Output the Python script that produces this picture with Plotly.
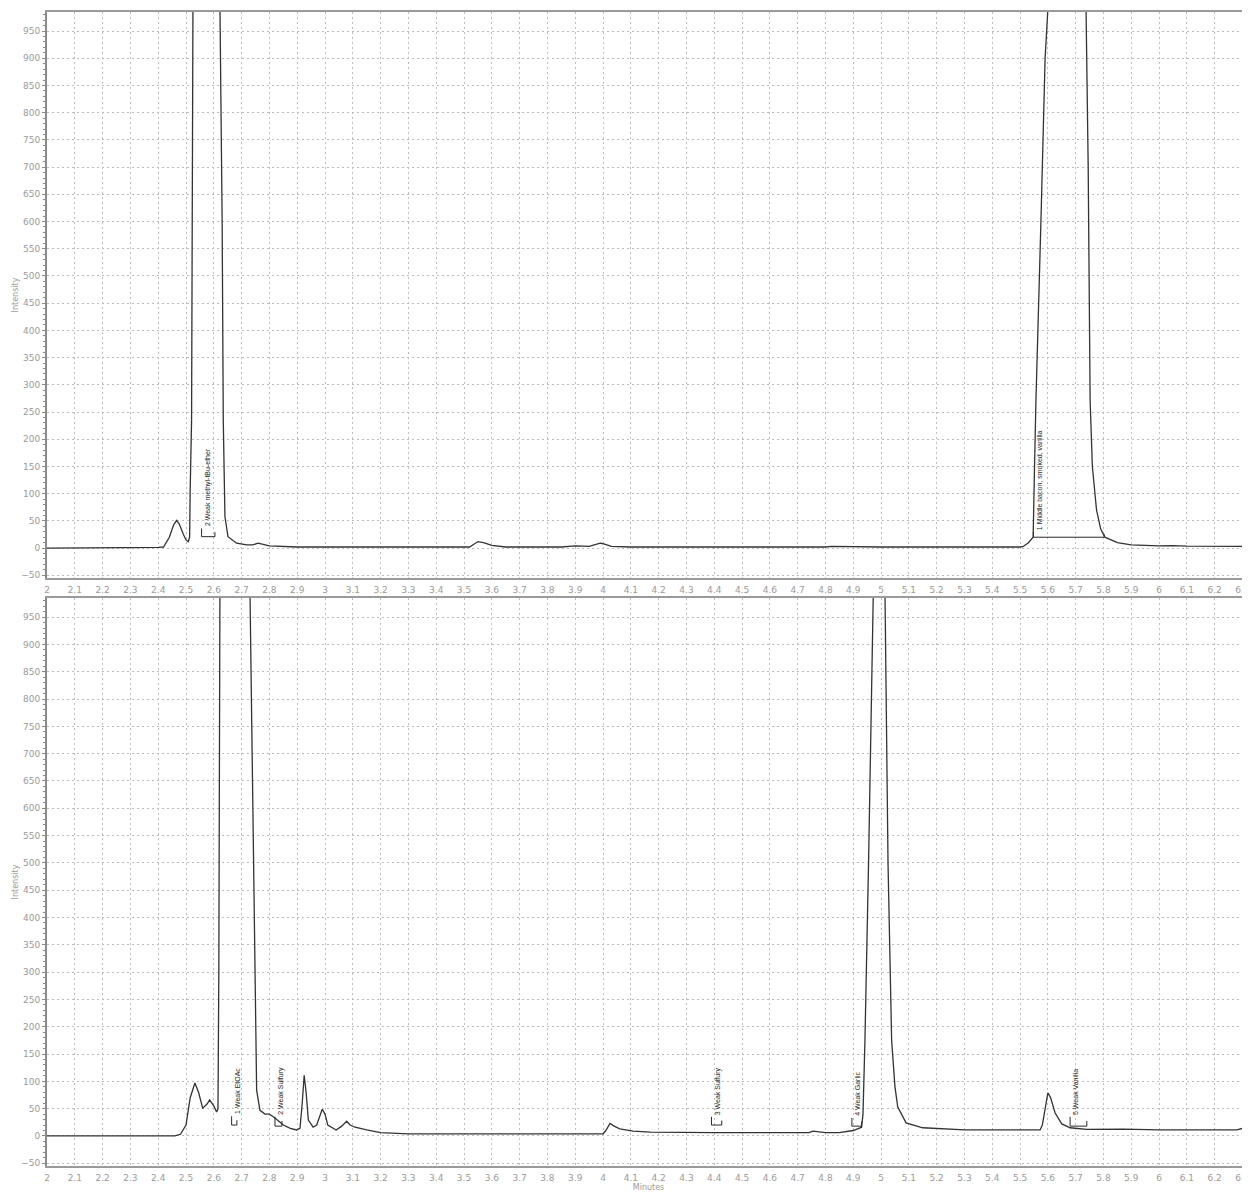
import plotly.graph_objects as go

# ---------------- data ----------------
top_time = [2.0, 2.27, 2.28, 2.40, 2.419, 2.44, 2.455, 2.466, 2.475, 2.49, 2.50, 2.508,
            2.513, 2.515, 2.52, 2.525, 2.575, 2.622, 2.63, 2.634, 2.64, 2.651, 2.682,
            2.718, 2.74, 2.759, 2.78, 2.80, 2.90, 3.00, 3.30, 3.50, 3.52, 3.55, 3.57,
            3.60, 3.65, 3.85, 3.90, 3.95, 3.98, 3.99, 4.00, 4.03, 4.10, 4.30, 4.40,
            4.80, 4.82, 5.00, 5.50, 5.51, 5.53, 5.547, 5.552, 5.557, 5.575, 5.59, 5.601,
            5.67, 5.737, 5.745, 5.752, 5.76, 5.775, 5.79, 5.805, 5.85, 5.90, 5.95,
            6.00, 6.05, 6.10, 6.33]
top_intensity = [0, 0, 1, 1.5, 2, 20, 42, 51, 45, 26, 15, 12,
                 20, 107, 235, 1000, 4000, 1000, 600, 235, 58, 21, 9,
                 6, 6, 9, 6, 4, 2, 2, 1, 1, 2, 12, 10,
                 5, 2, 2, 4, 3, 7, 9, 8, 3, 2, 2, 1.5,
                 2, 3, 2, 2, 2.5, 10, 20, 150, 270, 600, 900, 1000,
                 4000, 1000, 700, 270, 150, 70, 35, 20, 10, 6, 5,
                 4, 4.5, 3.5, 3]

bottom_time = [2.0, 2.46, 2.48, 2.50, 2.515, 2.532, 2.545, 2.56, 2.575, 2.585, 2.60,
               2.61, 2.615, 2.618, 2.622, 2.68, 2.73, 2.745, 2.752, 2.754, 2.766,
               2.784, 2.80, 2.82, 2.85, 2.875, 2.898, 2.91, 2.918, 2.925, 2.932, 2.94,
               2.957, 2.97, 2.99, 3.00, 3.01, 3.04, 3.06, 3.078, 3.09, 3.108, 3.15,
               3.20, 3.30, 3.60, 3.90, 4.00, 4.01, 4.025, 4.04, 4.06, 4.108, 4.17,
               4.40, 4.70, 4.74, 4.755, 4.78, 4.80, 4.85, 4.88, 4.90, 4.92, 4.93,
               4.935, 4.942, 4.955, 4.972, 4.993, 5.014, 5.025, 5.038, 5.05, 5.06,
               5.09, 5.15, 5.21, 5.30, 5.40, 5.50, 5.572, 5.58, 5.59, 5.60, 5.61,
               5.626, 5.65, 5.68, 5.74, 5.80, 5.87, 6.00, 6.20, 6.28, 6.30, 6.33]
bottom_intensity = [0, 0, 3, 20, 70, 97, 80, 51, 58, 66, 55,
                    44, 50, 300, 1000, 4000, 1000, 400, 175, 84, 47,
                    40, 40, 33, 20, 14, 11, 14, 60, 111, 80, 29,
                    16, 20, 49, 40, 20, 11, 18, 27, 20, 16, 11,
                    6, 4, 4, 4, 4, 10, 23, 18, 13, 9, 7,
                    6, 6, 6, 9, 8, 6, 6, 8, 10, 14, 16,
                    40, 175, 500, 1000, 1600, 1000, 500, 175, 90, 53,
                    24, 15, 13, 11, 11, 11, 11, 20, 47, 79, 70,
                    42, 22, 15, 12, 12, 12.5, 11, 11, 11, 14, 15]

top_ann_labels = ["2 Weak methyl-tBu-ether", "1 Middle bacon, smoked, vanilla"]
top_ann_start = [2.556, 5.548]
top_ann_end = [2.604, 5.803]
top_ann_base = [21, 20]
top_ann_top = [36, 30]

bottom_ann_labels = ["1 Weak EtOAc", "2 Weak Sulfury", "3 Weak Sulfury",
                     "4 Weak Garlic", "5 Weak Vanilla"]
bottom_ann_start = [2.664, 2.82, 4.39, 4.895, 5.68]
bottom_ann_end = [2.683, 2.845, 4.427, 4.93, 5.74]
bottom_ann_base = [20, 18, 20, 18, 18]
bottom_ann_top = [36, 35, 35, 33, 35]

x_tick_vals = [round(2.0 + 0.1 * i, 1) for i in range(44)]
x_tick_text = [("%g" % v) for v in x_tick_vals]
y_tick_vals = list(range(-50, 1000, 50))

# ---------------- figure ----------------
LINE = "#333333"
GRID = "#bdbdbd"
AXIS = "#9a9a9a"
TICKF = dict(family="DejaVu Sans", size=9, color="#9a9a9a")
GDASH = "2px,3px"

fig = go.Figure()
fig.add_trace(go.Scatter(x=top_time, y=top_intensity, mode="lines",
                         line=dict(color=LINE, width=1.3), xaxis="x", yaxis="y",
                         showlegend=False, hoverinfo="skip"))
fig.add_trace(go.Scatter(x=bottom_time, y=bottom_intensity, mode="lines",
                         line=dict(color=LINE, width=1.3), xaxis="x2", yaxis="y2",
                         showlegend=False, hoverinfo="skip"))

def bracket(x0, x1, yb, yt, xr, yr):
    right_top = yb + (yt - yb) * 0.55
    path = "M %f,%f L %f,%f L %f,%f L %f,%f" % (x0, yt, x0, yb, x1, yb, x1, right_top)
    fig.add_shape(type="path", path=path, xref=xr, yref=yr,
                  line=dict(color="#2a2a2a", width=1))

def label(x0, yt, txt, xr, yr):
    fig.add_annotation(x=x0, y=yt, xref=xr, yref=yr, text=txt, textangle=-90,
                       showarrow=False, xanchor="center", yanchor="bottom",
                       xshift=6, font=dict(family="Liberation Sans", size=7, color="#1e1e1e"))

for lab, s, e, b, t in zip(top_ann_labels, top_ann_start, top_ann_end, top_ann_base, top_ann_top):
    bracket(s, e, b, t, "x", "y")
    label(s, t, lab, "x", "y")
for lab, s, e, b, t in zip(bottom_ann_labels, bottom_ann_start, bottom_ann_end,
                           bottom_ann_base, bottom_ann_top):
    bracket(s, e, b, t, "x2", "y2")
    label(s, t, lab, "x2", "y2")

xcommon = dict(range=[2.0, 6.327], tickmode="array", tickvals=x_tick_vals,
               ticktext=x_tick_text, tickfont=TICKF, showgrid=True, gridcolor=GRID,
               griddash=GDASH, gridwidth=1, zeroline=False, showline=True,
               linecolor=AXIS, linewidth=2, mirror=True, ticks="", ticklabelstandoff=2)
ycommon = dict(range=[-55, 985], tickmode="array", tickvals=y_tick_vals,
               tickfont=TICKF, showgrid=True, gridcolor=GRID, griddash=GDASH,
               gridwidth=1, zeroline=False, showline=True, linecolor="#8a8a8a",
               linewidth=2, ticks="outside", ticklen=3, tickcolor="#8a8a8a",
               minor=dict(dtick=10, ticks="outside", ticklen=2, tickcolor="#8a8a8a",
                          showgrid=False),
               title=dict(text="Intensity", font=dict(family="DejaVu Sans", size=8,
                                                      color="#9a9a9a"), standoff=1))

# the page body adds an 8px margin; the sizes below compensate for it
fig.update_layout(
    width=1242, height=1186,
    margin=dict(l=39, r=0, t=4, b=28),
    paper_bgcolor="white", plot_bgcolor="white",
    xaxis=dict(domain=[0, 1], anchor="y", **xcommon),
    yaxis=dict(domain=[0.5095, 1.0], anchor="x", **ycommon),
    xaxis2=dict(domain=[0, 1], anchor="y2",
                title=dict(text="Minutes", font=dict(family="DejaVu Sans", size=8,
                                                     color="#9a9a9a"), standoff=2),
                **xcommon),
    yaxis2=dict(domain=[0.0, 0.4922], anchor="x2", **ycommon),
)

fig.write_html("out.html")
